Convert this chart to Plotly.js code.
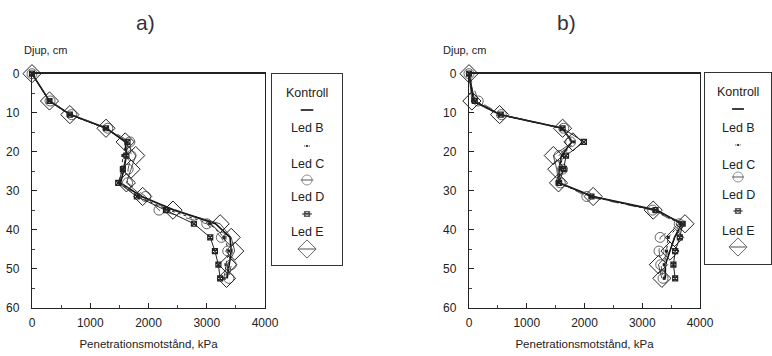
<!DOCTYPE html>
<html>
<head>
<meta charset="utf-8">
<script src="https://cdn.plot.ly/plotly-3.0.1.min.js"></script>
<style>
html,body{margin:0;padding:0;background:#fff;}
#chart{width:772px;height:356px;}
</style>
</head>
<body>
<div id="chart"></div>
<script>
// ---- data ----
const depths = [0, 7, 10.5, 14, 17.5, 21, 24.5, 28, 31.5, 35, 38.5, 42, 45.5, 49, 52.5];
const seriesNames = ['Kontroll', 'Led B', 'Led C', 'Led D', 'Led E'];

// Panel a) penetration resistance, kPa
const kontrollA = [0, 300, 660, 1280, 1600, 1620, 1580, 1520, 1880, 2450, 3150, 3400, 3420, 3380, 3350];
const ledBA     = [0, 290, 640, 1260, 1620, 1560, 1540, 1500, 1820, 2350, 3050, 3300, 3380, 3330, 3300];
const ledCA     = [0, 310, 680, 1300, 1680, 1700, 1650, 1640, 1950, 2180, 3000, 3250, 3360, 3420, 3380];
const ledDA     = [0, 300, 650, 1270, 1640, 1620, 1560, 1480, 1800, 2300, 2780, 3060, 3140, 3200, 3230];
const ledEA     = [0, 300, 650, 1270, 1600, 1780, 1700, 1620, 1900, 2420, 3230, 3420, 3480, 3360, 3340];

// Panel b) penetration resistance, kPa
const kontrollB = [0, 80, 540, 1620, 1780, 1600, 1560, 1560, 2150, 3250, 3680, 3560, 3480, 3400, 3400];
const ledBB     = [0, 60, 520, 1600, 1820, 1620, 1580, 1540, 2100, 3200, 3660, 3450, 3420, 3380, 3380];
const ledCB     = [0, 160, 560, 1640, 1760, 1560, 1620, 1580, 2040, 3180, 3640, 3310, 3290, 3320, 3360];
const ledDB     = [0, 100, 550, 1620, 1990, 1680, 1640, 1560, 2120, 3230, 3700, 3650, 3570, 3540, 3570];
const ledEB     = [0, 50, 530, 1620, 1800, 1460, 1520, 1550, 2150, 3190, 3740, 3560, 3480, 3280, 3340];

const xTickVals = [0, 1000, 2000, 3000, 4000];
const yTickVals = [0, 10, 20, 30, 40, 50, 60];

// ---- styles ----
const styles = [
  {mode: 'lines', line: {color: '#111', width: 1.6}, marker: {}},
  {mode: 'lines+markers', line: {color: '#222', width: 1, dash: 'dot'}, marker: {symbol: 'square', size: 3, color: '#222'}},
  {mode: 'lines+markers', line: {color: '#555', width: 1, dash: 'dash'}, marker: {symbol: 'circle-open', size: 10, color: '#666', line: {width: 1}}},
  {mode: 'lines+markers', line: {color: '#222', width: 1}, marker: {symbol: 'square-x-open', size: 5, color: '#222', line: {width: 1.2}}},
  {mode: 'lines+markers', line: {color: '#222', width: 0.8}, marker: {symbol: 'diamond-open', size: 14, color: '#222', line: {width: 1}}}
];

const dataA = [kontrollA, ledBA, ledCA, ledDA, ledEA];
const dataB = [kontrollB, ledBB, ledCB, ledDB, ledEB];

const traces = [];
function addPanel(vals, xa, ya) {
  vals.forEach((v, i) => {
    traces.push({
      type: 'scatter', x: v, y: depths, name: seriesNames[i], xaxis: xa, yaxis: ya,
      mode: styles[i].mode, line: styles[i].line, marker: styles[i].marker,
      showlegend: false, hoverinfo: 'skip', cliponaxis: false
    });
  });
}
addPanel(dataA, 'x', 'y');
addPanel(dataB, 'x2', 'y2');

// ---- hand-built legends (text above, key below) ----
const legTextYA = [93, 128, 164, 197, 232];
const legKeyYA  = [110, 146, 180, 214, 249];
const legTextYB = [93, 129, 166, 196, 232];
const legKeyYB  = [110, 146, 178, 212, 248];
const keyHalf = [0.09, 0.04, 0.09, 0.07, 0.12];

const annotations = [];
function addLegend(xa, ya, textY, keyY) {
  seriesNames.forEach((n, i) => {
    annotations.push({xref: xa, yref: ya, x: 0.5, y: textY[i], text: n, showarrow: false,
      xanchor: 'center', yanchor: 'middle', font: {family: 'Liberation Sans, Arial, sans-serif', size: 12.5, color: '#222'}});
    const s = styles[i];
    const mk = Object.assign({}, s.marker);
    if (s.mode === 'lines+markers') mk.size = [0, s.marker.size, 0];
    traces.push({
      type: 'scatter', xaxis: xa, yaxis: ya,
      x: [0.5 - keyHalf[i], 0.5, 0.5 + keyHalf[i]], y: [keyY[i], keyY[i], keyY[i]],
      mode: s.mode, line: Object.assign({}, s.line, {dash: 'solid'}), marker: mk,
      showlegend: false, hoverinfo: 'skip', cliponaxis: false
    });
  });
}
addLegend('x3', 'y3', legTextYA, legKeyYA);
addLegend('x4', 'y4', legTextYB, legKeyYB);

const fontFam = 'Liberation Sans, Arial, sans-serif';
function xAx(domain, anchor) {
  return {
    domain: domain, anchor: anchor, range: [0, 4000], tickvals: xTickVals,
    ticks: 'inside', ticklen: 5, tickcolor: '#222', tickwidth: 1,
    minor: {dtick: 500, ticks: 'inside', ticklen: 3, tickcolor: '#444'},
    showline: true, linecolor: '#222', linewidth: 1.2, mirror: true,
    showgrid: false, zeroline: false, ticklabelstandoff: 4,
    tickfont: {family: fontFam, size: 12, color: '#222'},
    title: {text: 'Penetrationsmotstånd, kPa', font: {family: fontFam, size: 11.5, color: '#222'}, standoff: 10}
  };
}
function yAx(domain, anchor) {
  return {
    domain: domain, anchor: anchor, range: [60, 0], tickvals: yTickVals,
    ticks: 'inside', ticklen: 5, tickcolor: '#222', tickwidth: 1,
    minor: {dtick: 5, ticks: 'inside', ticklen: 3, tickcolor: '#444'},
    showline: true, linecolor: '#222', linewidth: 1.2, mirror: true,
    showgrid: false, zeroline: false, ticklabelstandoff: 9,
    tickfont: {family: fontFam, size: 12, color: '#222'}
  };
}
function legAx(domain, anchor, isY) {
  const a = {domain: domain, anchor: anchor, showline: true, linecolor: '#333', linewidth: 1.2, mirror: true,
    showgrid: false, zeroline: false, showticklabels: false, ticks: '', fixedrange: true};
  a.range = isY ? [265, 74] : [0, 1];
  return a;
}

const yDom = [0.136, 0.793];
annotations.push(
  {xref: 'paper', yref: 'paper', x: 145 / 772, y: 1 - 23 / 356, text: 'a)', showarrow: false,
   xanchor: 'center', yanchor: 'middle', font: {family: fontFam, size: 21, color: '#333'}},
  {xref: 'paper', yref: 'paper', x: 566 / 772, y: 1 - 23 / 356, text: 'b)', showarrow: false,
   xanchor: 'center', yanchor: 'middle', font: {family: fontFam, size: 21, color: '#333'}},
  {xref: 'paper', yref: 'paper', x: 22 / 772, y: 1 - 50 / 356, text: 'Djup, cm', showarrow: false,
   xanchor: 'left', yanchor: 'middle', font: {family: fontFam, size: 11, color: '#222'}},
  {xref: 'paper', yref: 'paper', x: 441 / 772, y: 1 - 50 / 356, text: 'Djup, cm', showarrow: false,
   xanchor: 'left', yanchor: 'middle', font: {family: fontFam, size: 11, color: '#222'}}
);

const layout = {
  width: 772, height: 356, margin: {l: 0, r: 0, t: 0, b: 0},
  paper_bgcolor: '#fff', plot_bgcolor: 'rgba(0,0,0,0)', showlegend: false,
  xaxis: xAx([32 / 772, 265 / 772], 'y'),
  yaxis: yAx(yDom, 'x'),
  xaxis2: xAx([469 / 772, 700 / 772], 'y2'),
  yaxis2: yAx(yDom, 'x2'),
  xaxis3: legAx([272 / 772, 342 / 772], 'y3', false),
  yaxis3: legAx([(356 - 265) / 356, (356 - 74) / 356], 'x3', true),
  xaxis4: legAx([705 / 772, 771 / 772], 'y4', false),
  yaxis4: legAx([(356 - 264) / 356, (356 - 73) / 356], 'x4', true),
  annotations: annotations
};

Plotly.newPlot('chart', traces, layout, {staticPlot: true, displayModeBar: false});
</script>
</body>
</html>
